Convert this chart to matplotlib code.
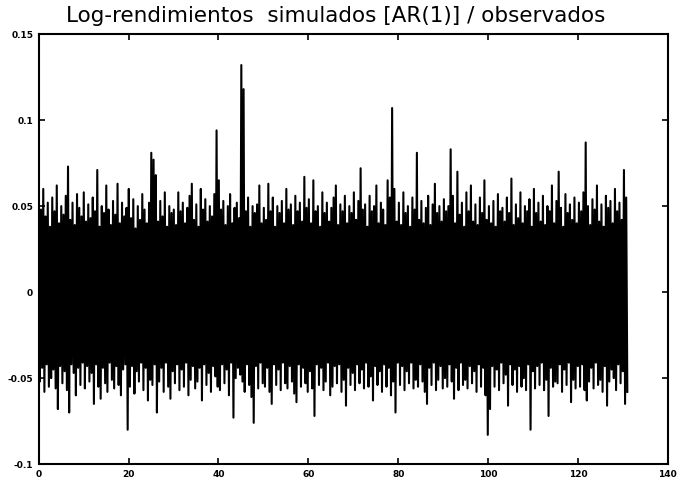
import numpy as np
import matplotlib.pyplot as plt

# picos superiores / inferiores (en milesimas), uno cada 0.5 en el eje x
altos = [
    66, 48, 60, 44, 52, 38, 55, 47, 62, 40, 50, 45, 56, 73, 42, 52, 39, 57, 49, 44,
    58, 41, 51, 43, 55, 47, 71, 38, 50, 46, 62, 48, 39, 53, 45, 63, 40, 52, 44, 49,
    60, 43, 54, 37, 50, 42, 57, 48, 40, 52, 81, 77, 68, 41, 53, 44, 58, 38, 50, 46,
    48, 39, 58, 47, 52, 40, 49, 56, 63, 42, 51, 38, 60, 48, 54, 41, 50, 44, 57, 94,
    65, 48, 53, 39, 50, 57, 40, 49, 52, 43, 132, 118, 47, 55, 38, 50, 46, 51, 62, 40,
    49, 42, 63, 47, 55, 38, 50, 46, 53, 40, 60, 48, 51, 39, 56, 47, 52, 41, 67, 49,
    54, 40, 65, 47, 50, 38, 58, 46, 52, 41, 49, 55, 62, 39, 51, 47, 56, 40, 50, 46,
    58, 42, 53, 72, 48, 51, 38, 56, 47, 50, 62, 40, 52, 48, 39, 65, 55, 107, 60, 41,
    52, 39, 58, 46, 50, 38, 55, 48, 81, 42, 53, 40, 49, 56, 39, 51, 63, 46, 50, 41,
    54, 47, 50, 83, 56, 40, 70, 45, 52, 38, 58, 47, 62, 41, 51, 39, 55, 46, 65, 42,
    50, 40, 53, 38, 57, 47, 49, 41, 55, 46, 66, 39, 51, 43, 58, 40, 50, 47, 54, 38,
    60, 46, 52, 41, 56, 39, 50, 47, 62, 40, 53, 70, 49, 38, 57, 46, 51, 42, 55, 40,
    52, 47, 58, 87, 50, 39, 54, 48, 62, 41, 51, 38, 56, 49, 53, 40, 60, 47, 52, 42,
    71, 55,
]
bajos = [
    -52, -44, -58, -42, -55, -50, -45, -56, -68, -43, -53, -46, -57, -70, -42, -47, -60, -44, -54, -41,
    -56, -43, -52, -47, -65, -42, -55, -62, -44, -53, -58, -41, -51, -56, -43, -54, -60, -45, -42, -80,
    -55, -43, -59, -46, -52, -41, -57, -44, -63, -51, -54, -42, -70, -52, -44, -58, -41, -55, -62, -46,
    -53, -42, -57, -45, -55, -41, -60, -51, -43, -56, -52, -44, -63, -42, -54, -47, -58, -43, -49, -55,
    -57, -42, -53, -45, -60, -41, -73, -50, -44, -48, -52, -58, -42, -54, -61, -76, -43, -56, -41, -53,
    -55, -44, -58, -65, -42, -54, -45, -57, -41, -53, -56, -43, -52, -59, -64, -42, -55, -44, -53, -58,
    -46, -56, -72, -42, -54, -44, -57, -52, -41, -60, -55, -43, -53, -42, -58, -51, -66, -44, -54, -47,
    -57, -42, -53, -45, -56, -41, -55, -49, -63, -43, -54, -46, -58, -42, -55, -44, -60, -52, -70, -41,
    -54, -43, -57, -46, -53, -41, -56, -51, -55, -42, -52, -58, -65, -44, -54, -41, -57, -51, -43, -56,
    -50, -55, -42, -52, -62, -44, -57, -41, -54, -51, -56, -43, -53, -46, -58, -42, -55, -44, -60, -83,
    -68, -43, -55, -45, -57, -41, -53, -48, -66, -42, -54, -45, -58, -43, -55, -50, -57, -42, -80, -46,
    -56, -43, -54, -41, -57, -51, -72, -44, -55, -52, -53, -42, -58, -45, -54, -41, -64, -51, -56, -43,
    -55, -42, -57, -63, -52, -44, -56, -41, -54, -51, -58, -43, -66, -52, -45, -50, -57, -42, -53, -46,
    -65, -58,
]
x_fin = 131

# serie alternando picos altos y bajos
serie = np.empty(2 * len(altos))
serie[0::2] = np.array(altos) / 1000
serie[1::2] = np.array(bajos) / 1000
t = np.linspace(0, x_fin, len(serie))

fig = plt.figure(figsize=(6.8, 4.87), dpi=100)
ax = fig.add_axes([0.057, 0.047, 0.925, 0.883])
ax.plot(t, serie, color='black', linewidth=1.5)

ax.set_xlim(0, 140)
ax.set_ylim(-0.1, 0.15)
ax.set_xticks(np.arange(0, 141, 20))
ax.set_yticks([-0.1, -0.05, 0, 0.05, 0.1, 0.15])
ax.set_yticklabels(['-0.1', '-0.05', '0', '0.05', '0.1', '0.15'])
ax.tick_params(direction='in', top=True, right=True, length=4, width=1.2,
               labelsize=6.5, pad=4)
for lab in ax.get_xticklabels() + ax.get_yticklabels():
    lab.set_fontweight('bold')
for s in ax.spines.values():
    s.set_linewidth(1.5)

fig.text(0.493, 0.955, 'Log-rendimientos  simulados [AR(1)] / observados',
         ha='center', va='baseline', fontsize=15.5, family='DejaVu Sans')

fig.savefig('out.png', dpi=100)
